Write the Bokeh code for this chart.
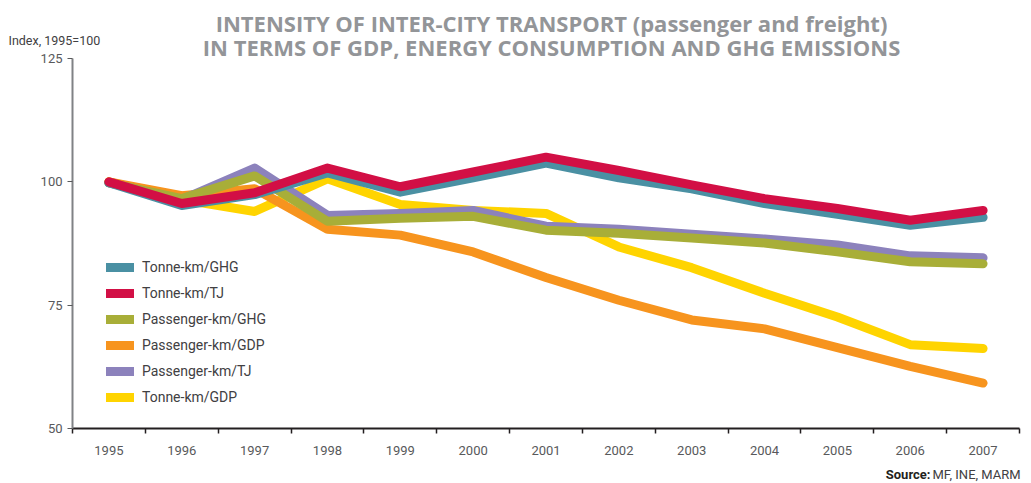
from bokeh.plotting import figure
from bokeh.models import Range1d, FixedTicker, Label, Legend, LegendItem
from bokeh.embed import file_html
from bokeh.resources import INLINE

years = [1995, 1996, 1997, 1998, 1999, 2000, 2001, 2002, 2003, 2004, 2005, 2006, 2007]

tonne_km_ghg = [99.8, 95.2, 97.4, 101.8, 97.9, 100.8, 103.8, 100.8, 98.6, 95.6, 93.4, 91.2, 92.8]
tonne_km_tj = [100.0, 95.6, 97.8, 102.8, 99.0, 102.0, 105.0, 102.3, 99.4, 96.6, 94.6, 92.2, 94.2]
passenger_km_ghg = [99.8, 96.6, 101.2, 92.0, 92.6, 93.0, 90.2, 89.6, 88.6, 87.6, 85.8, 83.8, 83.4]
passenger_km_gdp = [100.0, 97.2, 98.6, 90.4, 89.2, 85.8, 80.6, 76.0, 72.0, 70.2, 66.4, 62.6, 59.2]
passenger_km_tj = [99.8, 96.4, 102.8, 93.2, 93.6, 94.2, 91.0, 90.4, 89.4, 88.4, 87.2, 85.0, 84.6]
tonne_km_gdp = [100.0, 96.4, 94.0, 100.6, 95.4, 94.2, 93.6, 86.8, 82.6, 77.4, 72.6, 67.0, 66.2]

series_names = ["Tonne-km/GHG", "Tonne-km/TJ", "Passenger-km/GHG",
                "Passenger-km/GDP", "Passenger-km/TJ", "Tonne-km/GDP"]
series_values = [tonne_km_ghg, tonne_km_tj, passenger_km_ghg,
                 passenger_km_gdp, passenger_km_tj, tonne_km_gdp]
line_colors = ["#4a90a3", "#d20f45", "#a8ae38", "#f7941e", "#8c82bc", "#ffd400"]
draw_order = [5, 3, 4, 2, 0, 1]

y_ticks = [50, 75, 100, 125]

FONT = "Roboto"
TITLE_FONT = "Open Sans"
W, H = 1031, 483
# frame covers whole canvas; axes are pinned at fixed data locations
X0, X1 = 1994.5, 2007.5
PX_X = (1019 - 72) / 13.0
PX_Y = (428 - 58) / 75.0

p = figure(width=W, height=H, output_backend="svg", toolbar_location=None,
           x_range=Range1d(X0 - 72 / PX_X, X0 + (W - 72) / PX_X),
           y_range=Range1d(50 - (H - 428) / PX_Y, 125 + 58 / PX_Y),
           min_border=0)
p.outline_line_color = None
p.xgrid.visible = False
p.ygrid.visible = False
p.background_fill_color = "white"
p.border_fill_color = "white"

# x axis
xa = p.xaxis[0]
xa.fixed_location = 50
xa.bounds = (X0, X1)
xa.ticker = FixedTicker(ticks=years, minor_ticks=[y - 0.5 for y in years] + [years[-1] + 0.5])
xa.major_tick_line_color = None
xa.major_tick_out = 0
xa.major_tick_in = 0
xa.minor_tick_out = 5
xa.minor_tick_in = 0
xa.minor_tick_line_color = "#231f20"
xa.minor_tick_line_width = 1.5
xa.axis_line_color = "#231f20"
xa.axis_line_width = 2
xa.major_label_standoff = 12
xa.major_label_text_font = FONT
xa.major_label_text_font_size = "13px"
xa.major_label_text_color = "#58595b"

# y axis
ya = p.yaxis[0]
ya.fixed_location = X0
ya.bounds = (50, 125)
ya.ticker = FixedTicker(ticks=y_ticks, minor_ticks=[])
ya.axis_line_color = "#808285"
ya.axis_line_width = 2
ya.major_tick_line_color = "#58595b"
ya.major_tick_out = 5
ya.major_tick_in = 0
ya.major_label_standoff = 5
ya.major_label_text_font = FONT
ya.major_label_text_font_size = "13px"
ya.major_label_text_color = "#58595b"

renderers = {}
for i in draw_order:
    renderers[i] = p.line(years, series_values[i], line_color=line_colors[i], line_width=9,
                          line_cap="round", line_join="round")

items = [LegendItem(label=series_names[i], renderers=[renderers[i]]) for i in range(6)]
legend = Legend(items=items, location=(106, 76), padding=0, margin=0, spacing=6,
                glyph_width=28, glyph_height=20, label_height=20, label_standoff=8,
                border_line_color=None, background_fill_alpha=0,
                label_text_font=FONT, label_text_font_size="14px",
                label_text_color="#414042")
p.add_layout(legend, "center")

# texts
title_color = "#939598"
p.add_layout(Label(x=551, y=H - 22, x_units="screen", y_units="screen",
                   text="INTENSITY OF INTER-CITY TRANSPORT (passenger and freight)",
                   text_align="center", text_baseline="middle", text_font=TITLE_FONT,
                   text_font_size="22px", text_font_style="bold", text_color=title_color))
p.add_layout(Label(x=551, y=H - 46, x_units="screen", y_units="screen",
                   text="IN TERMS OF GDP, ENERGY CONSUMPTION AND GHG EMISSIONS",
                   text_align="center", text_baseline="middle", text_font=TITLE_FONT,
                   text_font_size="22px", text_font_style="bold", text_color=title_color))
p.add_layout(Label(x=8, y=H - 40, x_units="screen", y_units="screen",
                   text="Index, 1995=100", text_align="left", text_baseline="middle",
                   text_font=FONT, text_font_size="12.5px", text_color="#414042"))
p.add_layout(Label(x=930, y=H - 474, x_units="screen", y_units="screen",
                   text="Source:", text_align="right", text_baseline="middle",
                   text_font=FONT, text_font_size="13px", text_font_style="bold",
                   text_color="#231f20"))
p.add_layout(Label(x=932, y=H - 474, x_units="screen", y_units="screen",
                   text="MF, INE, MARM", text_align="left", text_baseline="middle",
                   text_font=FONT, text_font_size="13px", text_color="#414042"))

open("out.html", "w").write(file_html(p, INLINE))
